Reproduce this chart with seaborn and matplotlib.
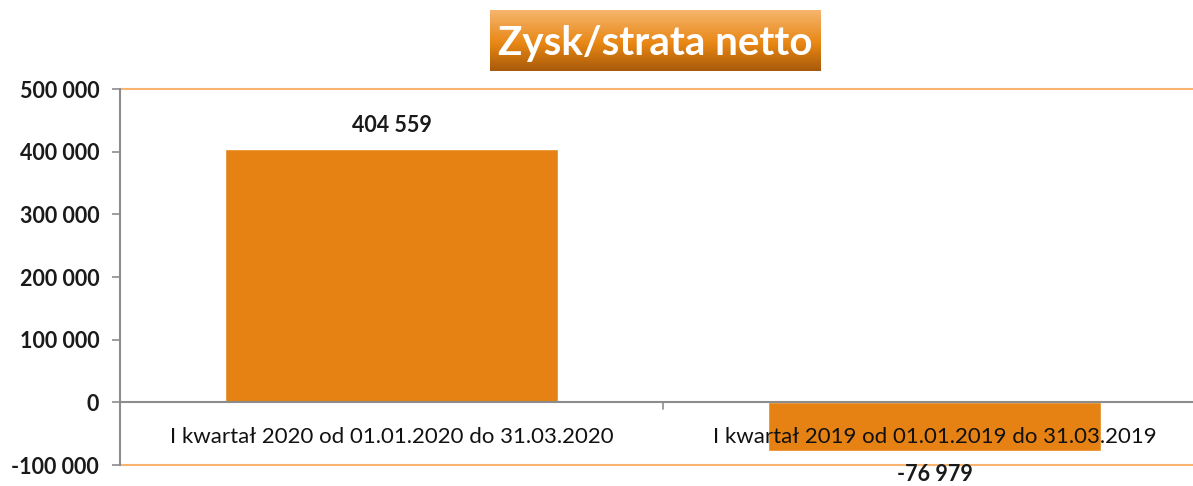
import matplotlib
matplotlib.use("Agg")
import matplotlib.pyplot as plt
import seaborn as sns
import numpy as np
import pandas as pd

categories = ["I kwartał 2020 od 01.01.2020 do 31.03.2020",
              "I kwartał 2019 od 01.01.2019 do 31.03.2019"]
values = [404559, -76979]
value_labels = ["404 559", "-76 979"]
yticks = [-100000, 0, 100000, 200000, 300000, 400000, 500000]
ytick_labels = ["-100 000", "0", "100 000", "200 000", "300 000", "400 000", "500 000"]
title = "Zysk/strata netto"

sns.set_theme(style="white")
plt.rcParams['font.family'] = ['Lato', 'DejaVu Sans']

W, H = 1193, 486
fig = plt.figure(figsize=(W/100, H/100), dpi=100)
ax = fig.add_axes([120/W, (H-465)/H, (1206-120)/W, (465-89)/H])

df = pd.DataFrame({"cat": categories, "val": values})
sns.barplot(data=df, x="cat", y="val", color="#E58213", saturation=1,
            width=0.613, ax=ax)
ax.set_xlim(-0.5, 1.5)
ax.set_ylim(-100000, 500000)
ax.set_xlabel("")
ax.set_ylabel("")
ax.set_xticks([])
ax.set_yticks(yticks)
ax.set_yticklabels(ytick_labels, fontsize=15.5, fontweight="bold", color="#1a1a1a")
ax.tick_params(axis="y", length=6, width=1.2, color="#8c8c8c", left=True, pad=9)
for s in ["top", "right", "bottom"]:
    ax.spines[s].set_visible(False)
ax.spines["left"].set_color("#8c8c8c")
ax.spines["left"].set_linewidth(1.5)
ax.axhline(500000, color="#F9B570", lw=1.5, zorder=0, clip_on=False)
ax.axhline(-100000, color="#F9B570", lw=1.5, zorder=0, clip_on=False)
ax.axhline(0, color="#8c8c8c", lw=1.5, zorder=3)
ax.plot([0.5, 0.5], [0, -10000], color="#8c8c8c", lw=1.2, zorder=3, clip_on=False)

for i, c in enumerate(categories):
    ax.text(i, -56000, c, ha="center", va="center", fontsize=16,
            color="#111111", zorder=5)

for i, (v, lab) in enumerate(zip(values, value_labels)):
    if v >= 0:
        ax.text(i, v + 20000, lab, ha="center", va="bottom", fontsize=15.5, fontweight="bold", color="#1a1a1a")
    else:
        ax.text(i, v - 22000, lab, ha="center", va="top", fontsize=15.5, fontweight="bold",
                color="#1a1a1a", clip_on=False)

# Title box with gradient
tax = fig.add_axes([490/W, (H-71)/H, (821-490)/W, (71-10)/H])
top = np.array([246, 182, 112]) / 255
mid = np.array([232, 135, 20]) / 255
bot = np.array([168, 90, 10]) / 255
n = 100
grad = np.zeros((n, 1, 3))
for k in range(n):
    t = k / (n - 1)
    if t < 0.55:
        u = t / 0.55
        grad[k, 0] = top * (1 - u) + mid * u
    else:
        u = (t - 0.55) / 0.45
        grad[k, 0] = mid * (1 - u) + bot * u
tax.imshow(grad, aspect="auto", extent=[0, 1, 0, 1], origin="upper")
tax.set_xlim(0, 1)
tax.set_ylim(0, 1)
tax.axis("off")
tax.text(0.5, 0.45, title, ha="center", va="center", fontsize=29, fontweight="bold", color="white")

fig.savefig("out.png", dpi=100)
